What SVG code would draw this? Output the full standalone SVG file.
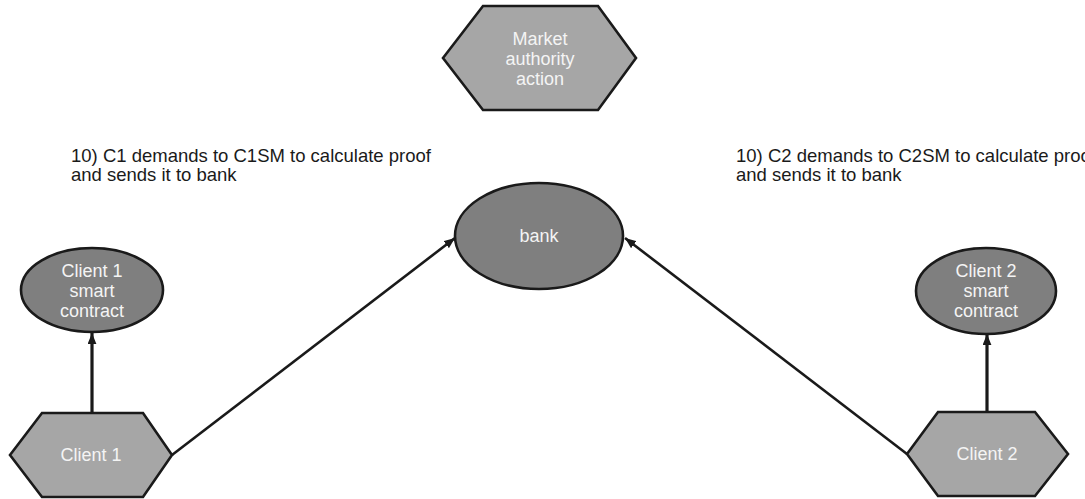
<svg xmlns="http://www.w3.org/2000/svg" width="1085" height="499" viewBox="0 0 1085 499">
<style>
.hex{fill:#a6a6a6;stroke:#1a1a1a;stroke-width:2.6;stroke-linejoin:miter}
.ell{fill:#7f7f7f;stroke:#1a1a1a;stroke-width:2.6}
.nt{font-family:"Liberation Sans",Arial,sans-serif;font-size:18px;fill:#f4f4f4;text-anchor:middle}
.lt{font-family:"Liberation Sans",Arial,sans-serif;font-size:18.5px;fill:#1a1a1a}
.edge{stroke:#1a1a1a;stroke-width:2.6;fill:none}
.edgev{stroke:#1a1a1a;stroke-width:3.2;fill:none}
</style>
<defs>
<marker id="ah" viewBox="0 0 10 8" refX="10" refY="4" markerWidth="11" markerHeight="9" markerUnits="userSpaceOnUse" orient="auto">
<path d="M0,0 L10,4 L0,8 z" fill="#1a1a1a"/>
</marker>
</defs>
<rect width="1085" height="499" fill="#ffffff"/>
<g id="labels">
<text class="lt" x="71" y="162">10) C1 demands to C1SM to calculate proof</text>
<text class="lt" x="71" y="181">and sends it to bank</text>
<text class="lt" x="736" y="162">10) C2 demands to C2SM to calculate proof</text>
<text class="lt" x="736" y="181">and sends it to bank</text>
</g>
<g id="connectors">
<line class="edge" x1="172" y1="455" x2="455" y2="238" marker-end="url(#ah)"/>
<line class="edge" x1="907" y1="454" x2="625" y2="238" marker-end="url(#ah)"/>
<line class="edgev" x1="92" y1="413" x2="92" y2="333" marker-end="url(#ah)"/>
<line class="edgev" x1="987" y1="412" x2="987" y2="334" marker-end="url(#ah)"/>
</g>
<g id="market">
<polygon class="hex" points="443,58 483,6 598,6 636,58 598,110 483,110"/>
<text class="nt" x="540" y="45">Market</text>
<text class="nt" x="540" y="65">authority</text>
<text class="nt" x="540" y="85">action</text>
</g>
<g id="bank">
<ellipse class="ell" cx="539" cy="236" rx="84" ry="53"/>
<text class="nt" x="539" y="242">bank</text>
</g>
<g id="client1sc">
<ellipse class="ell" cx="92" cy="290" rx="71" ry="42"/>
<text class="nt" x="92" y="277">Client 1</text>
<text class="nt" x="92" y="297">smart</text>
<text class="nt" x="92" y="317">contract</text>
</g>
<g id="client2sc">
<ellipse class="ell" cx="986" cy="291" rx="70" ry="43"/>
<text class="nt" x="986" y="277">Client 2</text>
<text class="nt" x="986" y="297">smart</text>
<text class="nt" x="986" y="317">contract</text>
</g>
<g id="client1">
<polygon class="hex" points="10,455 42,413 143,413 172,455 143,497 42,497"/>
<text class="nt" x="91" y="461">Client 1</text>
</g>
<g id="client2">
<polygon class="hex" points="907,454 938,412 1035,412 1068,454 1035,496 938,496"/>
<text class="nt" x="987" y="460">Client 2</text>
</g>
</svg>
